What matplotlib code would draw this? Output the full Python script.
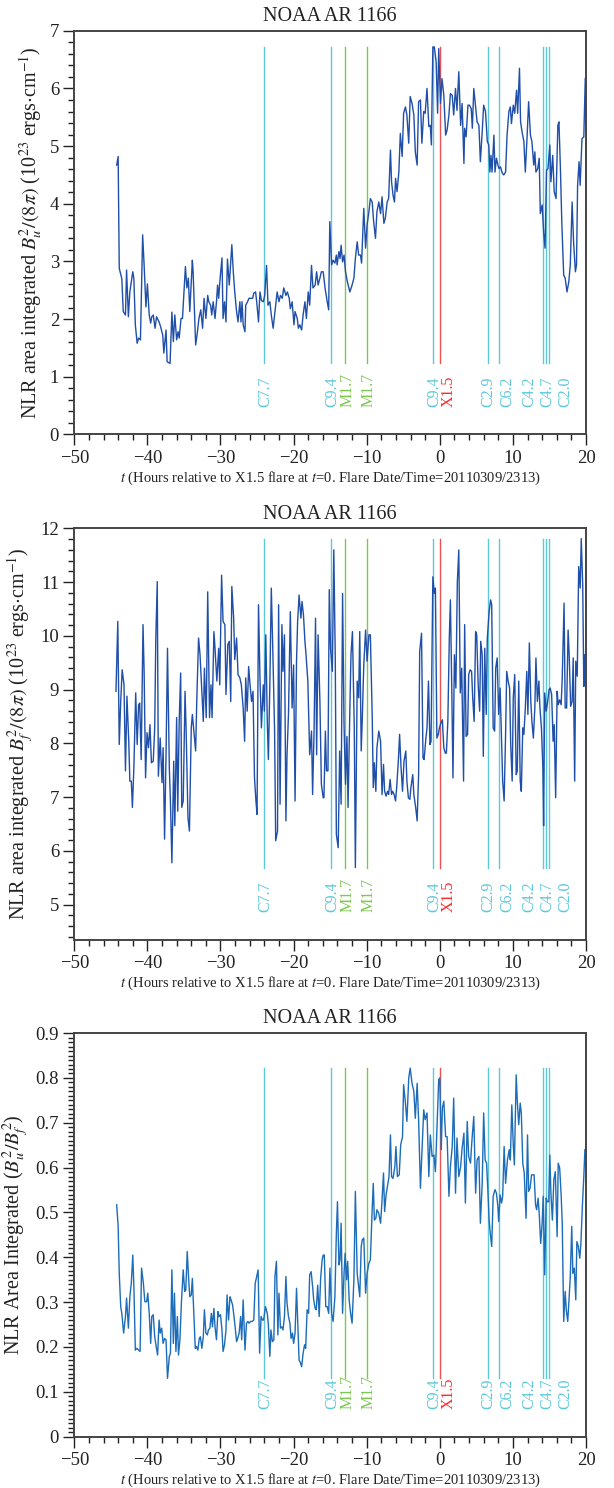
import numpy as np
import matplotlib
matplotlib.use("Agg")
import matplotlib.pyplot as plt
import matplotlib.transforms as mtransforms
from matplotlib.ticker import MultipleLocator

plt.rcParams['font.family'] = ['Liberation Serif', 'DejaVu Serif']
plt.rcParams['mathtext.fontset'] = 'stix'

# flares in the window (hours relative to the X1.5 flare)
flare_times = [-24.0, -14.95, -12.95, -9.95, -0.95, 0.0, 6.55, 8.05, 14.05, 14.5, 15.0]
flare_names = ['C7.7', 'C9.4', 'M1.7', 'M1.7', 'C9.4', 'X1.5', 'C2.9', 'C6.2', 'C4.2', 'C4.7', 'C2.0']

# panel 1: integrated B_u^2/(8pi)
t_bu = [-44.2, -44.0, -43.85, -43.5, -43.3, -43.0, -42.85, -42.6, -42.4, -42.0, -41.85, -41.65, -41.4,
        -41.2, -40.95, -40.65, -40.45, -40.2, -40.0, -39.75, -39.55, -39.4, -39.2, -38.95, -38.75,
        -38.4, -38.2, -37.9, -37.75, -37.45, -37.3, -36.9, -36.65, -36.45, -36.25, -36.0, -35.8,
        -35.65, -35.4, -35.2, -35.0, -34.8, -34.6, -34.4, -34.2, -33.85, -33.75, -33.4, -33.2,
        -32.95, -32.7, -32.45, -32.25, -32.0, -31.75, -31.6, -31.35, -31.2, -31.0, -30.75, -30.55,
        -30.4, -30.25, -30.05, -29.8, -29.65, -29.45, -29.25, -29.05, -28.8, -28.65, -28.45, -28.25,
        -28.05, -27.8, -27.6, -27.35, -27.2, -27.05, -26.9, -26.65, -26.55, -26.3, -26.1, -25.9,
        -25.6, -25.45, -25.2, -25.05, -24.8, -24.6, -24.4, -24.15, -23.95, -23.7, -23.5, -23.25,
        -23.05, -22.8, -22.55, -22.25, -22.0, -21.8, -21.55, -21.35, -21.05, -20.85, -20.6, -20.45,
        -20.2, -19.95, -19.8, -19.5, -19.35, -19.15, -18.9, -18.7, -18.45, -18.25, -18.0, -17.8,
        -17.55, -17.35, -17.05, -16.85, -16.65, -16.4, -16.2, -15.95, -15.7, -15.4, -15.2, -15.05,
        -14.8, -14.6, -14.35, -14.15, -14.05, -13.8, -13.65, -13.5, -13.3, -13.1, -12.9, -12.65,
        -12.3, -12.0, -11.75, -11.55, -11.3, -11.1, -10.85, -10.7, -10.55, -10.4, -10.15, -9.95,
        -9.7, -9.5, -9.25, -9.05, -8.8, -8.6, -8.35, -8.1, -7.9, -7.65, -7.45, -7.2, -7.0, -6.75,
        -6.6, -6.4, -6.2, -6.05, -5.85, -5.6, -5.4, -5.15, -4.95, -4.7, -4.5, -4.25, -4.05, -3.8,
        -3.55, -3.35, -3.1, -2.9, -2.65, -2.45, -2.2, -2.0, -1.75, -1.5, -1.3, -1.15, -0.95, -0.75,
        -0.5, -0.3, -0.15, 0.1, 0.3, 0.55, 0.8, 1.0, 1.25, 1.45, 1.7, 1.9, 2.15, 2.35, 2.6, 2.85,
        3.05, 3.3, 3.4, 3.6, 3.85, 4.05, 4.3, 4.45, 4.65, 4.9, 5.1, 5.35, 5.55, 5.8, 6.0, 6.25,
        6.5, 6.7, 6.85, 7.0, 7.15, 7.4, 7.55, 7.75, 7.95, 8.1, 8.3, 8.55, 8.75, 9.0, 9.2, 9.45,
        9.65, 9.8, 10.05, 10.25, 10.5, 10.65, 10.9, 11.05, 11.25, 11.5, 11.7, 11.95, 12.15, 12.4,
        12.6, 12.85, 13.0, 13.15, 13.4, 13.6, 13.75, 14.0, 14.2, 14.4, 14.6, 14.8, 15.05, 15.2,
        15.45, 15.65, 15.9, 16.15, 16.3, 16.5, 16.7, 16.95, 17.15, 17.4, 17.65, 17.85, 18.1, 18.3,
        18.55, 18.7, 18.85, 19.05, 19.2, 19.45, 19.7, 19.9]
bu = [4.67, 4.82, 2.88, 2.70, 2.13, 2.07, 2.85, 2.04, 2.47, 2.82, 2.70, 1.90, 1.58,
      1.67, 1.64, 3.46, 2.94, 2.21, 2.61, 2.07, 1.93, 2.04, 2.07, 1.84, 2.04,
      1.95, 1.87, 1.72, 1.41, 1.81, 1.26, 1.23, 2.12, 1.61, 2.07, 1.64, 1.78,
      1.67, 2.01, 2.01, 2.47, 2.91, 2.54, 2.71, 2.13, 3.02, 2.83, 1.55, 1.73,
      2.01, 2.16, 1.84, 2.36, 2.01, 2.41, 2.30, 2.24, 2.07, 2.30, 2.01, 2.30,
      2.59, 2.36, 2.71, 3.06, 2.01, 2.30, 1.95, 3.04, 2.59, 2.88, 3.29, 2.82,
      2.47, 2.13, 1.95, 2.30, 1.95, 2.30, 1.90, 1.78, 2.24, 2.30, 2.36, 2.36,
      2.36, 2.45, 2.47, 2.30, 1.95, 2.47, 2.32, 2.30, 2.41, 2.93, 2.24, 2.30,
      2.07, 1.84, 2.13, 2.47, 2.30, 2.41, 2.36, 2.54, 2.41, 2.47, 2.36, 2.18,
      2.30, 1.90, 2.13, 2.01, 1.84, 1.90, 1.81, 2.07, 2.30, 2.01, 2.47, 2.24,
      2.93, 2.54, 2.59, 2.82, 2.59, 2.71, 2.82, 2.82, 2.54, 2.30, 2.16, 3.69,
      2.94, 3.02, 2.97, 3.11, 2.94, 3.17, 3.05, 3.28, 2.99, 3.11, 2.82, 2.65,
      2.47, 2.59, 2.71, 3.05, 3.34, 3.11, 3.11, 2.97, 3.46, 3.92, 3.23, 3.63,
      3.86, 4.09, 4.03, 3.69, 3.40, 3.86, 4.03, 3.83, 4.12, 3.66, 3.75, 4.03, 4.09, 4.93,
      4.38, 4.15, 4.03, 4.44, 4.21, 4.55, 5.22, 4.82, 5.57, 5.68, 5.54, 5.05, 5.86, 5.74,
      5.54, 4.90, 4.67, 5.77, 5.80, 5.05, 5.60, 5.57, 6.00, 5.34, 5.36, 5.02, 6.72, 6.72,
      6.46, 5.57, 6.69, 5.74, 6.17, 5.88, 5.19, 5.28, 5.54, 5.91, 5.88, 5.54, 6.00, 5.62, 6.29, 5.36,
      5.74, 4.70, 5.31, 5.16, 5.71, 5.71, 5.65, 5.31, 6.00, 5.68, 5.42, 5.36, 4.73, 5.25, 5.71, 5.60,
      5.08, 5.02, 4.55, 4.84, 4.55, 5.19, 4.55, 4.79, 4.67, 4.61, 4.64, 4.53, 4.50, 4.55, 5.19, 5.60,
      5.68, 5.39, 5.71, 5.57, 5.97, 5.57, 6.35, 5.42, 5.25, 5.08, 4.55, 5.19, 5.77, 5.19,
      5.08, 4.67, 4.90, 4.55, 4.61, 4.79, 3.83, 3.98, 3.51, 3.23, 4.58, 4.61, 5.02, 4.38,
      4.84, 4.21, 4.09, 5.36, 5.42, 4.61, 3.63, 2.76, 2.71, 2.47, 2.65, 2.94, 4.03, 3.34,
      2.82, 2.94, 4.32, 4.73, 4.32, 5.13, 5.16, 6.17]

# panel 2: integrated B_f^2/(8pi)
t_bf = [-44.3, -44.05, -43.85, -43.65, -43.45, -43.2, -43.0, -42.8, -42.55, -42.4, -42.2, -42.05,
        -41.85, -41.6, -41.4, -41.2, -41.05, -40.85, -40.6, -40.45, -40.25, -40.05, -39.85, -39.65,
        -39.45, -39.2, -39.0, -38.85, -38.65, -38.5, -38.25, -38.0, -37.85, -37.65, -37.45, -37.25,
        -37.0, -36.85, -36.65, -36.4, -36.25, -36.0, -35.85, -35.65, -35.45, -35.3, -35.1, -34.85,
        -34.7, -34.45, -34.25, -34.0, -33.85, -33.65, -33.4, -33.25, -33.0, -32.8, -32.6, -32.35,
        -32.2, -31.95, -31.75, -31.5, -31.3, -31.15, -30.9, -30.75, -30.5, -30.25, -30.1, -29.85,
        -29.65, -29.4, -29.25, -29.0, -28.8, -28.6, -28.45, -28.2, -28.05, -27.8, -27.6, -27.35,
        -27.15, -26.9, -26.7, -26.55, -26.35, -26.15, -26.0, -25.75, -25.55, -25.35, -25.15, -25.0,
        -24.8, -24.6, -24.4, -24.15, -24.0, -23.8, -23.6, -23.45, -23.25, -23.05, -22.85, -22.6,
        -22.45, -22.2, -22.05, -21.85, -21.6, -21.45, -21.25, -21.05, -20.9, -20.7, -20.45, -20.2,
        -20.0, -19.8, -19.6, -19.45, -19.25, -19.0, -18.85, -18.65, -18.45, -18.3, -18.05, -17.8,
        -17.55, -17.4, -17.2, -17.0, -16.85, -16.65, -16.4, -16.2, -15.95, -15.85, -15.65, -15.5,
        -15.3, -15.12, -14.95, -14.7, -14.5, -14.3, -14.15, -13.9, -13.7, -13.5, -13.3, -13.1,
        -12.9, -12.7, -12.55, -12.3, -12.15, -11.95, -11.7, -11.55, -11.3, -11.1, -10.95, -10.75,
        -10.6, -10.4, -10.15, -9.95, -9.7, -9.5, -9.25, -9.1, -8.95, -8.75, -8.6, -8.35, -8.1,
        -7.9, -7.7, -7.55, -7.35, -7.15, -7.0, -6.8, -6.6, -6.45, -6.25, -6.05, -5.9, -5.65,
        -5.5, -5.3, -5.1, -4.9, -4.65, -4.5, -4.3, -4.1, -3.95, -3.7, -3.55, -3.3, -3.1, -2.9,
        -2.75, -2.5, -2.3, -2.15, -1.9, -1.75, -1.55, -1.35, -1.2, -0.95, -0.75, -0.6, -0.4,
        -0.2, -0.05, 0.15, 0.35, 0.55, 0.75, 0.9, 1.1, 1.3, 1.45, 1.65, 1.8, 2.0, 2.2, 2.4, 2.6,
        2.8, 3.0, 3.25, 3.4, 3.6, 3.8, 3.95, 4.15, 4.35, 4.5, 4.7, 4.9, 5.05, 5.25, 5.45, 5.6,
        5.8, 5.95, 6.15, 6.35, 6.5, 6.75, 6.95, 7.1, 7.3, 7.5, 7.65, 7.85, 8.05, 8.25, 8.45, 8.6,
        8.8, 9.0, 9.15, 9.35, 9.55, 9.7, 9.9, 10.05, 10.25, 10.45, 10.6, 10.8, 11.0, 11.15, 11.35,
        11.5, 11.7, 11.9, 12.05, 12.25, 12.45, 12.6, 12.8, 13.0, 13.15, 13.35, 13.55, 13.7, 13.9,
        14.1, 14.2, 14.35, 14.55, 14.7, 14.95, 15.1, 15.3, 15.5, 15.65, 15.85, 16.05, 16.2, 16.4,
        16.6, 16.75, 17.0, 17.15, 17.35, 17.55, 17.7, 17.9, 18.1, 18.25, 18.45, 18.6, 18.8, 19.0,
        19.2, 19.35, 19.55, 19.7, 19.8]
bf = [8.97, 10.27, 7.98, 8.78, 9.37, 9.09, 7.49, 8.88, 8.04, 7.30, 7.30, 6.81,
      7.55, 8.94, 7.98, 8.72, 8.75, 7.70, 10.21, 9.34, 7.36, 8.20, 7.92, 8.35,
      7.64, 7.67, 8.29, 9.96, 11.01, 7.39, 8.10, 7.27, 7.92, 6.22, 7.79, 9.77,
      7.55, 6.93, 5.78, 7.67, 6.47, 8.48, 6.74, 8.41, 9.31, 6.81, 6.93, 8.97,
      8.23, 6.62, 6.37, 8.29, 8.54, 8.23, 7.86, 8.78, 9.96, 9.65, 9.09, 8.41,
      9.40, 8.48, 10.82, 8.48, 9.09, 8.48, 10.08, 9.77, 9.16, 9.77, 9.09, 11.13,
      10.27, 10.21, 8.91, 9.84, 9.90, 8.78, 10.92, 10.33, 9.56, 9.96, 9.28, 9.22,
      9.09, 8.66, 8.04, 9.22, 8.60, 9.43, 9.16, 8.78, 8.97, 7.36, 6.93, 6.68,
      10.58, 9.22, 8.29, 9.09, 8.60, 10.02, 8.41, 7.70, 9.09, 10.89, 9.77, 8.23,
      6.19, 6.37, 10.58, 6.87, 10.21, 9.34, 10.02, 6.56, 7.79, 8.54, 10.45, 8.66,
      9.46, 6.93, 9.53, 10.27, 10.76, 10.33, 10.64, 10.39, 9.90, 9.65, 9.16, 7.79,
      8.23, 7.05, 8.23, 10.33, 7.79, 10.02, 8.78, 7.24, 6.99, 6.99, 8.23, 7.49,
      7.49, 10.86, 9.77, 9.34, 11.60, 9.59, 6.31, 6.06, 7.86, 6.87, 10.79, 8.35,
      7.24, 8.13, 6.81, 8.66, 9.65, 10.08, 8.29, 5.69, 9.16, 8.85, 10.08, 7.86,
      8.48, 9.46, 10.11, 9.53, 10.02, 10.02, 8.54, 7.18, 7.64, 7.11, 7.92, 8.23, 8.04,
      7.05, 7.61, 7.11, 7.02, 7.11, 7.05, 7.33, 7.05, 7.11, 7.05, 6.93, 7.18, 7.73,
      8.17, 7.55, 7.11, 7.67, 7.86, 7.30, 6.99, 6.96, 7.18, 7.42, 7.05, 6.81, 6.56, 7.42,
      9.71, 10.05, 7.73, 7.70, 8.10, 8.29, 9.16, 7.98, 8.04, 11.10, 10.79, 10.89, 8.10,
      8.17, 8.29, 8.38, 8.44, 7.92, 7.82, 7.82, 8.41, 9.96, 10.67, 8.91, 7.36, 9.65, 9.03, 11.01, 11.60,
      8.94, 9.40, 7.30, 10.21, 8.13, 8.17, 9.28, 9.37, 9.34, 8.85, 8.41, 10.08, 10.02, 9.09, 8.60, 9.90,
      9.65, 7.76, 9.77, 8.54, 9.96, 10.45, 10.67, 10.58, 8.29, 8.23, 9.40, 9.59, 8.54, 9.03, 8.04, 7.30,
      6.93, 8.17, 9.34, 9.16, 9.03, 7.98, 7.30, 8.85, 9.28, 7.42, 7.49, 9.16, 7.30, 7.11, 8.29,
      8.17, 8.66, 9.34, 8.54, 9.87, 8.78, 8.41, 8.10, 8.66, 9.59, 8.78, 9.16, 8.66, 8.29,
      7.55, 6.47, 8.94, 8.60, 8.72, 9.00, 9.03, 8.91, 8.04, 8.35, 6.99, 8.97, 8.72, 8.81,
      8.72, 9.22, 10.61, 8.66, 8.66, 10.11, 9.65, 8.69, 8.78, 9.59, 7.30, 9.53, 9.25, 11.29,
      10.89, 11.81, 10.95, 9.06, 9.65]

# panel 3: ratio B_u^2/B_f^2
t_ratio = [-44.2, -44.0, -43.85, -43.65, -43.5, -43.25, -43.0, -42.85, -42.6, -42.4, -42.2, -42.0,
           -41.85, -41.65, -41.45, -41.2, -41.0, -40.8, -40.55, -40.35, -40.1, -39.95, -39.75, -39.55,
           -39.4, -39.2, -39.0, -38.8, -38.6, -38.4, -38.25, -38.05, -37.85, -37.65, -37.45, -37.25,
           -37.0, -36.85, -36.65, -36.45, -36.3, -36.1, -35.9, -35.75, -35.55, -35.35, -35.1, -34.9,
           -34.75, -34.55, -34.35, -34.2, -34.0, -33.85, -33.65, -33.45, -33.3, -33.1, -32.9, -32.75,
           -32.55, -32.35, -32.2, -32.0, -31.8, -31.65, -31.45, -31.25, -31.1, -30.9, -30.75, -30.55,
           -30.35, -30.2, -30.0, -29.8, -29.65, -29.45, -29.25, -29.1, -28.9, -28.7, -28.55, -28.35,
           -28.2, -28.0, -27.8, -27.65, -27.45, -27.25, -27.1, -26.9, -26.65, -26.45, -26.25, -26.1,
           -25.9, -25.65, -25.45, -25.25, -25.1, -24.85, -24.65, -24.45, -24.25, -24.1, -23.85, -23.6,
           -23.45, -23.25, -23.1, -22.9, -22.7, -22.55, -22.35, -22.15, -22.0, -21.8, -21.6, -21.45,
           -21.25, -21.05, -20.9, -20.7, -20.5, -20.35, -20.15, -20.0, -19.8, -19.6, -19.45, -19.25,
           -19.05, -18.9, -18.7, -18.5, -18.35, -18.15, -17.95, -17.8, -17.6, -17.4, -17.25, -17.05,
           -16.9, -16.7, -16.5, -16.3, -16.1, -15.95, -15.8, -15.6, -15.4, -15.2, -15.03, -14.8,
           -14.6, -14.35, -14.15, -14.0, -13.8, -13.65, -13.5, -13.3, -13.1, -12.95, -12.75, -12.6,
           -12.4, -12.2, -12.0, -11.75, -11.55, -11.3, -11.15, -10.95, -10.75, -10.6, -10.4, -10.15,
           -9.95, -9.7, -9.5, -9.25, -9.1, -8.95, -8.75, -8.6, -8.35, -8.1, -7.9, -7.7, -7.55, -7.35,
           -7.1, -6.95, -6.75, -6.6, -6.4, -6.15, -6.0, -5.8, -5.55, -5.35, -5.1, -4.95, -4.7, -4.5,
           -4.25, -4.05, -3.8, -3.55, -3.35, -3.1, -2.9, -2.65, -2.45, -2.2, -2.0, -1.75, -1.5, -1.3,
           -1.05, -0.8, -0.6, -0.35, -0.15, 0.0, 0.2, 0.35, 0.55, 0.8, 1.0, 1.25, 1.45, 1.7, 1.9, 2.15,
           2.35, 2.6, 2.85, 3.05, 3.3, 3.5, 3.75, 3.95, 4.2, 4.4, 4.65, 4.9, 5.1, 5.35, 5.55, 5.8,
           6.0, 6.2, 6.4, 6.55, 6.75, 6.9, 7.1, 7.3, 7.55, 7.75, 7.95, 8.05, 8.25, 8.45, 8.6, 8.8,
           9.0, 9.25, 9.5, 9.65, 9.85, 10.05, 10.2, 10.45, 10.6, 10.8, 11.0, 11.15, 11.35, 11.55,
           11.8, 12.0, 12.15, 12.35, 12.55, 12.7, 12.9, 13.1, 13.25, 13.45, 13.6, 13.8, 14.0, 14.15,
           14.35, 14.55, 14.7, 14.9, 15.05, 15.2, 15.4, 15.6, 15.8, 16.05, 16.2, 16.4, 16.6, 16.75,
           16.95, 17.15, 17.3, 17.5, 17.65, 17.85, 18.05, 18.2, 18.4, 18.6, 18.75, 18.95, 19.15,
           19.3, 19.5, 19.7, 19.85]
ratio = [0.517, 0.469, 0.364, 0.290, 0.275, 0.231, 0.268, 0.309, 0.242, 0.312, 0.342, 0.405,
         0.335, 0.193, 0.197, 0.193, 0.190, 0.376, 0.342, 0.301, 0.301, 0.320, 0.275, 0.208,
         0.268, 0.272, 0.223, 0.201, 0.182, 0.260, 0.231, 0.242, 0.208, 0.219, 0.216, 0.130,
         0.179, 0.186, 0.372, 0.208, 0.320, 0.190, 0.268, 0.182, 0.216, 0.298, 0.372, 0.324,
         0.327, 0.413, 0.350, 0.312, 0.316, 0.353, 0.275, 0.197, 0.201, 0.193, 0.219, 0.223,
         0.197, 0.223, 0.283, 0.231, 0.227, 0.238, 0.242, 0.275, 0.245, 0.286, 0.245, 0.216,
         0.279, 0.268, 0.272, 0.238, 0.190, 0.205, 0.238, 0.316, 0.260, 0.312, 0.305, 0.294,
         0.275, 0.245, 0.212, 0.219, 0.231, 0.268, 0.216, 0.305, 0.193, 0.253, 0.257, 0.253,
         0.257, 0.257, 0.260, 0.342, 0.353, 0.372, 0.186, 0.268, 0.260, 0.260, 0.290, 0.275,
         0.249, 0.179, 0.238, 0.212, 0.216, 0.357, 0.391, 0.227, 0.320, 0.242, 0.245, 0.238,
         0.268, 0.357, 0.298, 0.268, 0.253, 0.219, 0.231, 0.208, 0.231, 0.331, 0.260, 0.171,
         0.164, 0.156, 0.186, 0.205, 0.197, 0.283, 0.275, 0.361, 0.368, 0.335, 0.305, 0.286,
         0.283, 0.338, 0.268, 0.353, 0.394, 0.405, 0.405, 0.290, 0.290, 0.275, 0.376, 0.275,
         0.257, 0.312, 0.454, 0.524, 0.383, 0.394, 0.476, 0.275, 0.364, 0.409, 0.350, 0.391,
         0.305, 0.275, 0.253, 0.350, 0.547, 0.364, 0.342, 0.312, 0.424, 0.439, 0.443, 0.320,
         0.364, 0.387, 0.394, 0.506, 0.565, 0.483, 0.487, 0.506, 0.498, 0.476, 0.528, 0.588, 0.502, 0.539,
         0.565, 0.580, 0.673, 0.580, 0.576, 0.602, 0.647, 0.580, 0.584, 0.651, 0.669, 0.785, 0.744, 0.703,
         0.800, 0.822, 0.788, 0.770, 0.710, 0.788, 0.707, 0.554, 0.632, 0.729, 0.707, 0.722, 0.580, 0.673,
         0.625, 0.628, 0.591, 0.707, 0.796, 0.800, 0.640, 0.733, 0.748, 0.669, 0.669, 0.536, 0.602, 0.647, 0.755, 0.543,
         0.666, 0.580, 0.602, 0.643, 0.677, 0.521, 0.703, 0.625, 0.610, 0.662, 0.714, 0.543, 0.617, 0.625, 0.476, 0.565,
         0.722, 0.617, 0.610, 0.558, 0.483, 0.454, 0.424, 0.536, 0.551, 0.543, 0.513, 0.480, 0.539, 0.521, 0.536, 0.647,
         0.565, 0.617, 0.640, 0.617, 0.740, 0.651, 0.606, 0.807, 0.748, 0.696, 0.744, 0.722, 0.610, 0.588,
         0.487, 0.673, 0.547, 0.554, 0.584, 0.584, 0.584, 0.517, 0.506, 0.532, 0.498, 0.431, 0.476, 0.536,
         0.361, 0.532, 0.524, 0.524, 0.628, 0.543, 0.483, 0.573, 0.591, 0.446, 0.610, 0.599, 0.539, 0.476,
         0.257, 0.324, 0.283, 0.257, 0.298, 0.357, 0.469, 0.364, 0.376, 0.305, 0.435, 0.424, 0.398,
         0.431, 0.513, 0.580, 0.640]

ylabels = [r'NLR area integrated $B_u^2/(8\pi)$ (10$^{23}$ ergs$\cdot$cm$^{-1}$)',
           r'NLR area integrated $B_f^2/(8\pi)$ (10$^{23}$ ergs$\cdot$cm$^{-1}$)',
           r'NLR Area Integrated ($B_u^2/B_f^2$)']

flare_colors = {'C': '#5cc8da', 'M': '#7cc84e', 'X': '#f05050'}
text_colors = {'C': '#5cc8da', 'M': '#7cc84e', 'X': '#ff2a2a'}
# label positions are nudged so the vertical names do not overlap
label_x = [-23.9, -14.7, -12.65, -9.7, -0.8, 1.2, 6.7, 9.2, 12.2, 14.7, 17.2]

fig = plt.figure(figsize=(6.14, 14.88), dpi=100)
panels = [
    (t_bu, bu, (0, 7), 1, 0.2, '#1f4fa8', [0.121, 0.7081, 0.8334, 0.2712]),
    (t_bf, bf, (4.35, 12), 1, 0.2, '#1f4fa8', [0.121, 0.3685, 0.8334, 0.2764]),
    (t_ratio, ratio, (0, 0.9), 0.1, 0.01, '#1c6cb8', [0.121, 0.0345, 0.8334, 0.2712]),
]

for i, (t, y, ylim, major, minor, color, rect) in enumerate(panels):
    ax = fig.add_axes(rect)
    ymin, ymax = min(y), max(y)
    for ft, name in zip(flare_times, flare_names):
        ax.plot([ft, ft], [ymin, ymax], color=flare_colors[name[0]], lw=1.0, zorder=1)
    ax.plot(t, y, color=color, lw=1.0, zorder=2)
    trans = mtransforms.blended_transform_factory(ax.transData, ax.transAxes)
    for lx, name in zip(label_x, flare_names):
        ax.text(lx, 0.068, name, transform=trans, rotation=90, ha='center', va='bottom',
                fontsize=11.5, color=text_colors[name[0]])

    ax.set_xlim(-50, 20)
    ax.set_ylim(*ylim)
    ax.xaxis.set_major_locator(MultipleLocator(10))
    ax.xaxis.set_minor_locator(MultipleLocator(2))
    ax.yaxis.set_major_locator(MultipleLocator(major))
    ax.yaxis.set_minor_locator(MultipleLocator(minor))
    if major < 1:
        ax.yaxis.set_major_formatter(plt.FuncFormatter(lambda v, p: '0' if abs(v) < 1e-9 else '%.1f' % v))
    ax.tick_params(which='both', direction='out', top=False, right=False, labelsize=13.5,
                   colors='#222222', width=1.0)
    ax.tick_params(which='major', length=8, pad=3)
    ax.tick_params(which='minor', length=4)
    for s in ax.spines.values():
        s.set_color('#444444')
        s.set_linewidth(1.4)

    ax.set_title('NOAA AR 1166', fontsize=14.5, pad=7, color='#222222')
    ax.set_xlabel(r'$t$ (Hours relative to X1.5 flare at $t$=0. Flare Date/Time=20110309/2313)',
                  fontsize=10.5, labelpad=2, color='#222222')
    ax.set_ylabel(ylabels[i], fontsize=14.5, labelpad=3, color='#222222')

fig.savefig('out.png', dpi=100)
